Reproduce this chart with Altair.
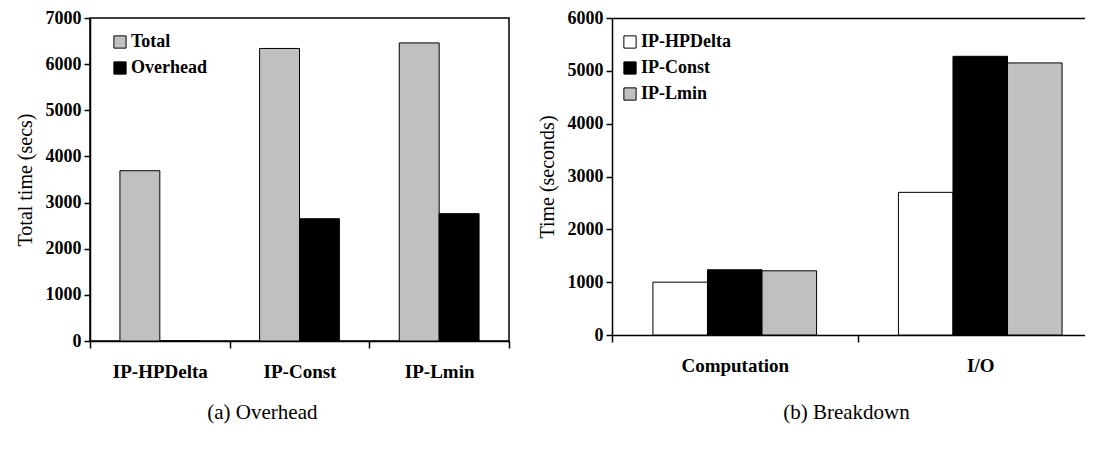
import altair as alt
import pandas as pd

# ---- data: panel (a) Overhead ----
methods = ["IP-HPDelta", "IP-Const", "IP-Lmin"]
metrics = ["Total", "Overhead"]
total_secs = [3690, 6340, 6460]
overhead_secs = [0, 2650, 2760]

# ---- data: panel (b) Breakdown ----
phases = ["Computation", "I/O"]
series_b = ["IP-HPDelta", "IP-Const", "IP-Lmin"]
hpdelta_secs = [1000, 2700]
const_secs = [1235, 5275]
lmin_secs = [1215, 5150]

colors_a = ["#c0c0c0", "#000000"]
colors_b = ["#ffffff", "#000000", "#c0c0c0"]

df_a = pd.DataFrame({
    "method": methods * 2,
    "metric": ["Total"] * 3 + ["Overhead"] * 3,
    "secs": total_secs + overhead_secs,
})

df_b = pd.DataFrame({
    "phase": phases * 3,
    "series": [series_b[0]] * 2 + [series_b[1]] * 2 + [series_b[2]] * 2,
    "secs": hpdelta_secs + const_secs + lmin_secs,
})

TICK_FONT = "Liberation Serif"
TITLE_FONT = "Liberation Serif"

xaxis_common = dict(
    title=None, tickBand="extent", tickSize=7, tickColor="black", tickWidth=1.5,
    domainColor="black", domainWidth=1.5, labelAngle=0,
    labelFont=TICK_FONT, labelFontSize=19, labelFontWeight="bold", labelColor="black",
    labelPadding=14,
)
yaxis_common = dict(
    grid=False, tickSize=6, tickColor="black", tickWidth=1.5, format="d",
    domainColor="black", domainWidth=1.5,
    labelFont=TICK_FONT, labelFontSize=18, labelFontWeight="bold", labelColor="black",
    labelPadding=3, titleFont=TITLE_FONT, titleFontSize=20, titleFontWeight="normal",
    titleColor="black", titlePadding=10,
)
legend_common = dict(
    title=None, orient="none", symbolType="square", symbolSize=150,
    symbolStrokeColor="black", symbolStrokeWidth=1, symbolOpacity=1,
    labelFont=TICK_FONT, labelFontSize=18, labelFontWeight="bold", labelColor="black",
    rowPadding=8, padding=0, labelOffset=2,
)

left = alt.Chart(
    df_a,
    view=alt.ViewBackground(stroke="black", strokeWidth=1.5),
).mark_bar(stroke="black", strokeWidth=1).encode(
    x=alt.X("method:N", sort=methods,
            scale=alt.Scale(paddingInner=0, paddingOuter=0),
            axis=alt.Axis(**xaxis_common)),
    xOffset=alt.XOffset("metric:N", sort=metrics,
                        scale=alt.Scale(domain=metrics, paddingOuter=0.75, paddingInner=0)),
    y=alt.Y("secs:Q", scale=alt.Scale(domain=[0, 7000], nice=False),
            axis=alt.Axis(values=list(range(0, 7001, 1000)), title="Total time (secs)",
                          **yaxis_common)),
    color=alt.Color("metric:N", sort=metrics,
                    scale=alt.Scale(domain=metrics, range=colors_a),
                    legend=alt.Legend(legendX=21, legendY=15, **legend_common)),
).properties(
    width=419, height=323,
    title=alt.TitleParams("(a) Overhead", orient="bottom", anchor="middle", frame="bounds",
                          font=TITLE_FONT, fontSize=21, fontWeight="normal", color="black",
                          offset=21),
)

xb = dict(sort=phases, scale=alt.Scale(paddingInner=0, paddingOuter=0))
bars_b = alt.Chart(df_b).mark_bar(stroke="black", strokeWidth=1).encode(
    x=alt.X("phase:N", axis=alt.Axis(**xaxis_common), **xb),
    xOffset=alt.XOffset("series:N", sort=series_b,
                        scale=alt.Scale(domain=series_b, paddingOuter=0.75, paddingInner=0)),
    y=alt.Y("secs:Q", scale=alt.Scale(domain=[0, 6000], nice=False),
            axis=alt.Axis(values=list(range(0, 6001, 1000)), title="Time (seconds)",
                          **yaxis_common)),
    color=alt.Color("series:N", sort=series_b,
                    scale=alt.Scale(domain=series_b, range=colors_b),
                    legend=alt.Legend(legendX=9, legendY=15, **legend_common)),
)
top_b = alt.Chart(df_b).mark_bar(opacity=0).encode(
    x=alt.X("phase:N", axis=alt.Axis(orient="top", labels=False, ticks=False, title=None,
                                     domainColor="black", domainWidth=1.5), **xb),
)
right = alt.layer(bars_b, top_b).resolve_axis(x="independent").properties(
    width=491, height=317,
    title=alt.TitleParams("(b) Breakdown", orient="bottom", anchor="middle", frame="group",
                          font=TITLE_FONT, fontSize=21, fontWeight="normal", color="black",
                          offset=27, dx=-11),
)

chart = alt.hconcat(left, right, spacing=26).resolve_scale(
    color="independent", xOffset="independent", x="independent", y="independent",
).properties(
    padding={"left": 6, "top": 0, "right": -19, "bottom": 0},
).configure_view(stroke=None)

chart.save("out.html", embed_options={"renderer": "svg", "actions": False})
